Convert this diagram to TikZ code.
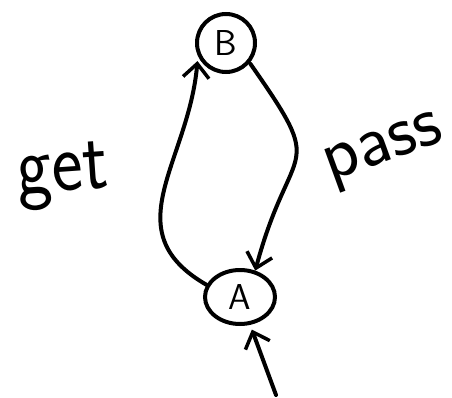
\documentclass[tikz,border=0pt]{standalone}
\usetikzlibrary{arrows.meta, shapes.geometric}

\tikzset{
  state/.style={draw, line width=4pt, inner sep=0pt, font=\sffamily\fontsize{36}{40}\selectfont},
  edgelabel/.style={anchor=base, font=\sffamily\fontsize{74}{80}\selectfont},
}

\begin{document}
\begin{tikzpicture}[x=1pt, y=1pt, line width=4pt, line cap=round,
    >={Straight Barb[length=14pt, width=26pt, line width=3.5pt]}]
            \useasboundingbox (0, 0) rectangle (452, 397);

            % States
            \node[state, circle, minimum size=58pt] (B) at (226, 354) {B};
            \node[state, ellipse, minimum width=70pt, minimum height=54pt] (A) at (240, 100) {A};

            % Start point of the incoming arrow
            \coordinate (start) at (276, 2);

            % get: A to B on the left
            \draw[->, shorten >=5pt] (A.160) to[out=150, in=265, looseness=1.2] (B.205);
            % pass: B to A on the right
            \draw[->, shorten <=1pt] (B.-40) to[out=-55, in=75, looseness=1.7] (A.60);
            % Incoming arrow
            \draw[->, shorten >=5pt] (start) -- (A.-70);

            % Labels
            \node[edgelabel, rotate=4, yscale=1.15] (get) at (64, 206) {get};
            \node[edgelabel, rotate=20] (pass) at (388, 236) {pass};

        \end{tikzpicture}
\end{document}
